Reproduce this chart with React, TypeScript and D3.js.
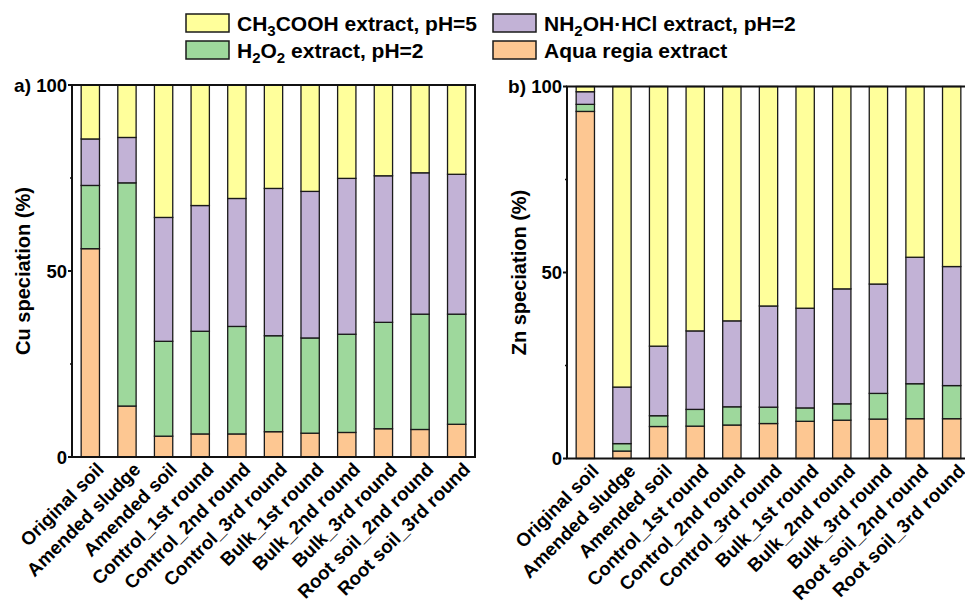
import React from "react";
import * as d3 from "d3";

const categories = [
  "Original soil",
  "Amended sludge",
  "Amended soil",
  "Control_1st round",
  "Control_2nd round",
  "Control_3rd round",
  "Bulk_1st round",
  "Bulk_2nd round",
  "Bulk_3rd round",
  "Root soil_2nd round",
  "Root soil_3rd round",
];

// fraction keys, stacked bottom -> top
const fractionKeys = ["aqua", "h2o2", "nh2oh", "ch3cooh"];

// Cu (panel a) segment sizes (%)
const cuAqua = [56.0, 13.7, 5.6, 6.2, 6.2, 6.8, 6.4, 6.6, 7.6, 7.4, 8.8];
const cuH2O2 = [17.0, 60.0, 25.5, 27.6, 28.9, 25.8, 25.6, 26.4, 28.6, 31.0, 29.6];
const cuNH2OH = [12.5, 12.2, 33.3, 33.8, 34.4, 39.6, 39.4, 41.9, 39.4, 38.0, 37.6];
const cuCH3COOH = [14.5, 14.1, 35.6, 32.4, 30.5, 27.8, 28.6, 25.1, 24.4, 23.6, 24.0];

// Zn (panel b) segment sizes (%)
const znAqua = [93.3, 2.0, 8.6, 8.7, 9.0, 9.4, 10.0, 10.3, 10.6, 10.7, 10.7];
const znH2O2 = [1.9, 2.0, 2.9, 4.5, 4.9, 4.4, 3.6, 4.4, 6.9, 9.4, 8.9];
const znNH2OH = [3.4, 15.2, 18.7, 21.1, 23.1, 27.2, 26.8, 30.9, 29.4, 34.0, 32.0];
const znCH3COOH = [1.4, 80.8, 69.8, 65.7, 63.0, 59.0, 59.6, 54.4, 53.1, 45.9, 48.4];

const yTicks = [0, 50, 100];
const yMinorTicks = [25, 75];

const colors: Record<string, string> = {
  ch3cooh: "#FFFF9B",
  nh2oh: "#C2B2D6",
  h2o2: "#9ED89C",
  aqua: "#FDC792",
};

const FONT = "'Liberation Sans', Arial, Helvetica, sans-serif";

function buildRows(a: number[], b: number[], c: number[], d: number[]) {
  return categories.map((cat, i) => ({
    cat,
    aqua: a[i],
    h2o2: b[i],
    nh2oh: c[i],
    ch3cooh: d[i],
  }));
}

type PanelProps = {
  x0: number;
  top: number;
  bottom: number;
  width: number;
  rows: any[];
  title: string;
  tag: string;
  titleX: number;
};

function Panel({ x0, top, bottom, width, rows, title, tag, titleX }: PanelProps) {
  const x = d3
    .scaleBand<string>()
    .domain(categories)
    .range([x0, x0 + width])
    .paddingInner(0.5)
    .paddingOuter(0.25);
  const y = d3.scaleLinear().domain([0, 100]).range([bottom, top]);
  const series = d3.stack<any>().keys(fractionKeys)(rows);

  return (
    <g>
      {series.map((s) => (
        <g key={s.key}>
          {s.map((d, i) => (
            <rect
              key={i}
              x={x(categories[i])}
              y={y(d[1])}
              width={x.bandwidth()}
              height={Math.max(0, y(d[0]) - y(d[1]))}
              fill={colors[s.key]}
              stroke="#1a1a1a"
              strokeWidth={1.3}
            />
          ))}
        </g>
      ))}
      {/* frame */}
      <rect
        x={x0}
        y={top}
        width={width}
        height={bottom - top}
        fill="none"
        stroke="#111"
        strokeWidth={2}
      />
      {/* y ticks */}
      {yTicks.map((t) => (
        <g key={t}>
          <line x1={x0 - 4} x2={x0} y1={y(t)} y2={y(t)} stroke="#111" strokeWidth={2} />
          <text
            x={x0 - 5}
            y={y(t)}
            dy="0.36em"
            textAnchor="end"
            fontSize={18.5}
            fontWeight="bold"
            fontFamily={FONT}
          >
            {t}
          </text>
        </g>
      ))}
      {yMinorTicks.map((t) => (
        <line key={t} x1={x0 - 2} x2={x0} y1={y(t)} y2={y(t)} stroke="#111" strokeWidth={1.5} />
      ))}
      <text
        x={x0 - 41}
        y={top}
        dy="0.36em"
        textAnchor="end"
        fontSize={19}
        fontWeight="bold"
        fontFamily={FONT}
      >
        {tag}
      </text>
      <text
        transform={`translate(${titleX},${(top + bottom) / 2}) rotate(-90)`}
        textAnchor="middle"
        dy="0.36em"
        fontSize={20}
        fontWeight="bold"
        fontFamily={FONT}
      >
        {title}
      </text>
      {/* x labels */}
      {categories.map((c) => {
        const cx = (x(c) as number) + x.bandwidth() / 2;
        return (
          <text
            key={c}
            transform={`translate(${cx + 10},${bottom + 9}) rotate(-45)`}
            textAnchor="end"
            dy="0.35em"
            fontSize={18.8}
            fontWeight="bold"
            fontFamily={FONT}
          >
            {c}
          </text>
        );
      })}
    </g>
  );
}

function LegendItem({ x, y, color, children }: { x: number; y: number; color: string; children: React.ReactNode }) {
  return (
    <g>
      <rect x={x} y={y} width={43} height={18} fill={color} stroke="#1a1a1a" strokeWidth={1.5} />
      <text x={x + 51} y={y + 9} dy="0.36em" fontSize={21} fontWeight="bold" fontFamily={FONT}>
        {children}
      </text>
    </g>
  );
}

const Sub = ({ t }: { t: string }) => (
  <tspan fontSize={15} dy={5}>
    {t}
  </tspan>
);

export default function App() {
  const cuRows = buildRows(cuAqua, cuH2O2, cuNH2OH, cuCH3COOH);
  const znRows = buildRows(znAqua, znH2O2, znNH2OH, znCH3COOH);
  return (
    <svg
      width={965}
      height={605}
      style={{ position: "absolute", left: 0, top: 0, background: "#fff" }}
    >
      <rect width={965} height={605} fill="#fff" />
      <LegendItem x={186} y={14} color={colors.ch3cooh}>
        <tspan>CH</tspan>
        <Sub t="3" />
        <tspan dy={-5}>COOH extract, pH=5</tspan>
      </LegendItem>
      <LegendItem x={493} y={14} color={colors.nh2oh}>
        <tspan>NH</tspan>
        <Sub t="2" />
        <tspan dy={-5}>OH·HCl extract, pH=2</tspan>
      </LegendItem>
      <LegendItem x={186} y={41} color={colors.h2o2}>
        <tspan>H</tspan>
        <Sub t="2" />
        <tspan dy={-5}>O</tspan>
        <Sub t="2" />
        <tspan dy={-5}> extract, pH=2</tspan>
      </LegendItem>
      <LegendItem x={493} y={41} color={colors.aqua}>
        Aqua regia extract
      </LegendItem>
      <Panel
        x0={72}
        top={85}
        bottom={457}
        width={403}
        rows={cuRows}
        title="Cu speciation (%)"
        tag="a)"
        titleX={23}
      />
      <Panel
        x0={567}
        top={86.5}
        bottom={458.5}
        width={403}
        rows={znRows}
        title="Zn speciation (%)"
        tag="b)"
        titleX={519}
      />
    </svg>
  );
}
